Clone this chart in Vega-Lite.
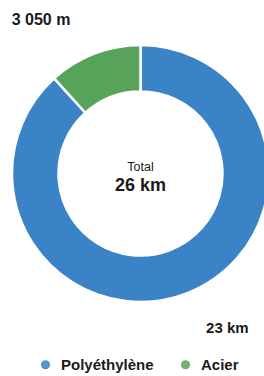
{
  "$schema": "https://vega.github.io/schema/vega-lite/v6.json",
  "width": 281,
  "height": 347,
  "autosize": {"type": "none"},
  "padding": {"left": 0, "top": 0, "right": 0, "bottom": 29},
  "background": "white",
  "config": {"view": {"stroke": null}, "font": "Liberation Sans"},
  "datasets": {
    "main": [
      {"materiau": "Polyéthylène", "longueur": 22950, "label": "23 km", "ordre": 1},
      {"materiau": "Acier", "longueur": 3050, "label": "3 050 m", "ordre": 2}
    ],
    "centre": [{"ligne1": "Total", "ligne2": "26 km", "v": 1}]
  },
  "layer": [
    {
      "data": {"name": "main"},
      "mark": {"type": "arc", "innerRadius": 82, "outerRadius": 128.5, "stroke": "white", "strokeWidth": 2.5},
      "encoding": {
        "theta": {"field": "longueur", "type": "quantitative", "stack": true},
        "order": {"field": "ordre", "type": "quantitative"},
        "color": {
          "field": "materiau",
          "type": "nominal",
          "sort": ["Polyéthylène", "Acier"],
          "scale": {"domain": ["Polyéthylène", "Acier"], "range": ["#3a83c6", "#58a35a"]},
          "legend": {
            "title": null,
            "orient": "none",
            "direction": "horizontal",
            "legendX": 38,
            "legendY": 357,
            "symbolType": "circle",
            "symbolSize": 85,
            "symbolOpacity": 0.85,
            "symbolStrokeWidth": 0,
            "labelFont": "Liberation Sans",
            "labelFontSize": 15,
            "labelFontWeight": "bold",
            "labelColor": "#1a1a1a",
            "labelOffset": 8,
            "columnPadding": 24
          }
        }
      }
    },
    {
      "data": {"name": "main"},
      "mark": {"type": "text", "font": "Liberation Sans", "fontSize": 16, "fontWeight": "bold", "color": "#1a1a1a", "dx": -40, "baseline": "middle"},
      "encoding": {
        "theta": {"field": "longueur", "type": "quantitative", "stack": true},
        "order": {"field": "ordre", "type": "quantitative"},
        "radius": {"value": 165},
        "text": {"condition": {"test": "datum.materiau === 'Acier'", "field": "label"}, "value": ""}
      }
    },
    {
      "data": {"name": "main"},
      "mark": {"type": "text", "font": "Liberation Sans", "fontSize": 15, "fontWeight": "bold", "color": "#1a1a1a", "dx": 27, "baseline": "middle"},
      "encoding": {
        "theta": {"field": "longueur", "type": "quantitative", "stack": true},
        "order": {"field": "ordre", "type": "quantitative"},
        "radius": {"value": 166},
        "text": {"condition": {"test": "datum.materiau === 'Polyéthylène'", "field": "label"}, "value": ""}
      }
    },
    {
      "data": {"name": "centre"},
      "mark": {"type": "text", "font": "Liberation Sans", "fontSize": 12.5, "color": "#1a1a1a", "dy": -6.5, "baseline": "middle"},
      "encoding": {
        "theta": {"field": "v", "type": "quantitative", "stack": true},
        "radius": {"value": 0},
        "text": {"field": "ligne1"}
      }
    },
    {
      "data": {"name": "centre"},
      "mark": {"type": "text", "font": "Liberation Sans", "fontSize": 18, "fontWeight": "bold", "color": "#1a1a1a", "dy": 12.5, "baseline": "middle"},
      "encoding": {
        "theta": {"field": "v", "type": "quantitative", "stack": true},
        "radius": {"value": 0},
        "text": {"field": "ligne2"}
      }
    }
  ]
}
